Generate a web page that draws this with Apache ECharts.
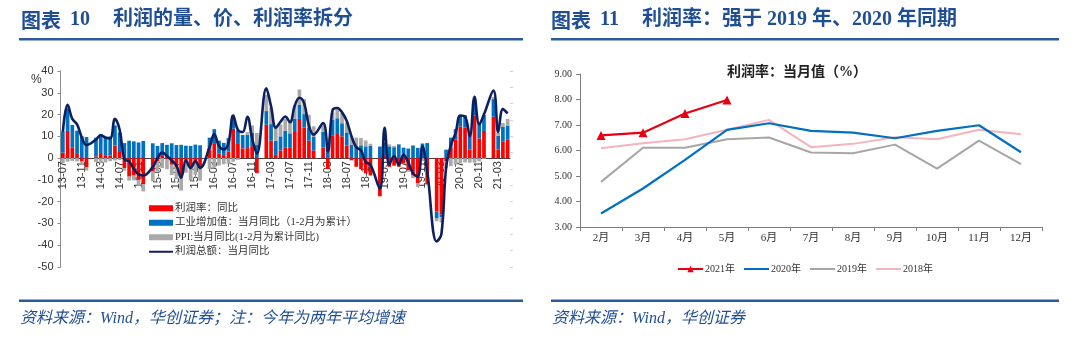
<!DOCTYPE html>
<html>
<head>
<meta charset="utf-8">
<script src="https://cdn.jsdelivr.net/npm/echarts@6/dist/echarts.min.js"></script>
<style>
  html, body { margin: 0; padding: 0; background: #ffffff; }
  #chart { width: 1080px; height: 348px; }
</style>
</head>
<body>
<div id="chart"></div>
<script>
// ---- Panel 10: monthly decomposition, 2013-07 .. 2021-05 ----
const months = [];
for (let y = 2013, m = 7; y < 2021 || (y === 2021 && m <= 5);) {
  months.push(String(y).slice(2) + '-' + String(m).padStart(2, '0'));
  m++;
  if (m > 12) { m = 1; y++; }
}

// 利润率：同比 (January merged into February, so January is empty)
const profitMargin = [
  2.5, 12.5, 5, 2.3, -1.5, -4.3,
  null, 0.8, 2.3, 1, 1.2, 5.8, 2.8, -4.6, -8.5, -8, -10, -12,
  null, -6, -1.5, 1, -0.5, -3, -4.1, -9, -0.8, -4.3, -1.8, -4.5,
  null, 4, 6.5, 2, 1, 3, 13.5, 6.5, 4.5, 4.6, 5.5, -6.9,
  null, 15.3, 8, 1.5, 3.5, 5, 5, 12, 18, 14, 8, 3.5,
  null, 4.9, -5, 10.5, 11.5, 10, 5.8, -1, -4, -5, -7, -8,
  null, -17.5, 1, -4, -3.5, -4, -2.5, -5.5, -8, -11.5, 0.5, -12,
  null, -24.5, -26, -1.5, 5, 8.5, 14.5, 14, 4, 19.5, 9, 12.5,
  null, 19, 4, 7.5, 8.4
];

// 工业增加值：当月同比
const valueAdded = [
  9.7, 10.4, 10.2, 10.3, 10.0, 9.7,
  null, 8.6, 8.8, 8.7, 8.8, 9.2, 9.0, 6.9, 8.0, 7.7, 7.2, 7.9,
  null, 6.8, 5.6, 5.9, 6.1, 6.8, 6.0, 6.1, 5.7, 5.6, 6.2, 5.9,
  null, 5.4, 6.8, 6.0, 6.0, 6.2, 6.0, 6.3, 6.1, 6.1, 6.2, 6.0,
  null, 6.3, 7.6, 6.5, 6.5, 7.6, 6.4, 6.0, 6.6, 6.2, 6.1, 6.2,
  null, 7.2, 6.0, 7.0, 6.8, 6.0, 6.0, 6.1, 5.8, 5.9, 5.4, 5.7,
  null, 5.3, 6.0, 5.4, 5.0, 6.3, 4.8, 4.4, 5.8, 4.7, 6.2, 6.9,
  null, -3.0, -1.1, 3.9, 4.4, 4.8, 4.8, 5.6, 6.9, 6.9, 7.0, 7.3,
  null, 8.1, 6.2, 6.8, 6.6
];

// PPI：当月同比
const ppi = [
  -2.3, -1.6, -1.3, -1.5, -1.4, -1.4,
  null, -1.8, -2.3, -2.0, -1.4, -1.1, -0.9, -1.2, -1.8, -2.2, -2.7, -3.3,
  null, -4.6, -4.6, -4.6, -4.6, -4.8, -5.4, -5.9, -5.9, -5.9, -5.9, -5.9,
  null, -5.1, -4.3, -3.4, -2.8, -2.6, -1.7, -0.8, 0.1, 1.2, 3.3, 5.5,
  null, 7.4, 7.6, 6.4, 5.5, 5.5, 5.5, 6.3, 6.9, 6.9, 5.8, 4.9,
  null, 4.0, 3.1, 3.4, 4.1, 4.7, 4.6, 4.1, 3.6, 3.3, 2.7, 0.9,
  null, 0.1, 0.4, 0.9, 0.6, 0.0, -0.3, -0.8, -1.2, -1.6, -1.4, -0.5,
  null, -1.5, -2.5, -3.1, -3.7, -3.0, -2.4, -2.0, -2.1, -2.1, -1.5, -0.4,
  null, 1.0, 1.4, 1.8, 3.0
];

// 利润总额：当月同比
const profitTotal = [
  12, 24.5, 18, 15.5, 9.5, 6,
  null, 8.5, 10.5, 9.5, 9, 18, 13, -0.5, -1.5, -5, -7.5, -8,
  null, -4, 0, 2.5, 1, -1, -3.5, -9, -1, -4.6, -1.5, -4.5,
  null, 5, 11, 5.5, 4, 7, 19.5, 13, 12, 19, 9, 2,
  null, 32, 23.8, 14, 16.7, 19.1, 16.5, 24, 27.7, 25.1, 14.9, 10.8,
  null, 16.1, 3.1, 22, 23, 21, 17, 10, 5, 3.6, -1.8, -3,
  null, -14, 13.9, -3, 1, -3, 1.5, -2, -7, -8.5, 5.4, -6,
  null, -38.3, -34.9, -4.3, 6, 11.5, 19.6, 19.1, 10.1, 28.2, 15.5, 20.1,
  null, 31, 12, 22.5, 20.5
];

// ---- Panel 11: monthly profit rate by year ----
const rateMonths = ['2月', '3月', '4月', '5月', '6月', '7月', '8月', '9月', '10月', '11月', '12月'];
const rate2021 = [6.59, 6.70, 7.45, 7.98];
const rate2020 = [3.53, 4.51, 5.63, 6.81, 7.07, 6.77, 6.70, 6.48, 6.77, 6.99, 5.93];
const rate2019 = [4.77, 6.11, 6.11, 6.44, 6.51, 5.92, 5.89, 6.23, 5.29, 6.39, 5.47];
const rate2018 = [6.09, 6.28, 6.44, 6.81, 7.20, 6.13, 6.26, 6.52, 6.44, 6.81, 6.64];

const titleBlue = '#1f4e94';
const ruleBlue = '#2d5a9c';
const serifCJK = '"Liberation Serif", "Noto Sans CJK SC", serif';
const sansCJK = '"Noto Sans CJK SC", sans-serif';

// left plot box: value range -50..40 over 196px, zero line lifted from the bottom edge
const leftTop = 71, leftHeight = 196, leftMin = -50, leftMax = 40;
const zeroOffset = -leftHeight * (0 - leftMin) / (leftMax - leftMin);

const chart = echarts.init(document.getElementById('chart'), null, { renderer: 'canvas' });

function txt(text, x, y, font, fill, align) {
  return {
    type: 'text',
    silent: true,
    style: { text: text, x: x, y: y, font: font, fill: fill, align: align || 'left', verticalAlign: 'middle' }
  };
}

const option = {
  animation: false,
  backgroundColor: '#ffffff',
  grid: [
    { left: 60.5, top: leftTop, width: 449.5, height: leftHeight },
    { left: 580, top: 74, width: 462, height: 153 }
  ],
  xAxis: [
    {
      gridIndex: 0, type: 'category', data: months, position: 'bottom', offset: zeroOffset,
      axisLine: { onZero: false, lineStyle: { color: '#404040', width: 1 } },
      axisTick: { show: false },
      axisLabel: { interval: 3, rotate: 90, fontSize: 11, color: '#333', margin: 3, fontFamily: '"Liberation Sans", Arial, sans-serif' }
    },
    {
      gridIndex: 1, type: 'category', data: rateMonths,
      axisLine: { lineStyle: { color: '#7f7f7f' } },
      axisTick: { show: true, length: 4, lineStyle: { color: '#7f7f7f' } },
      axisLabel: { fontSize: 11, color: '#333', margin: 6, fontFamily: serifCJK }
    }
  ],
  yAxis: [
    {
      gridIndex: 0, type: 'value', min: leftMin, max: leftMax, interval: 10,
      axisLine: { show: true, lineStyle: { color: '#8c8c8c' } },
      axisTick: { show: true, length: 3, lineStyle: { color: '#8c8c8c' } },
      splitLine: { show: false },
      axisLabel: { fontSize: 11, color: '#333', margin: 7, fontFamily: '"Liberation Sans", Arial, sans-serif' }
    },
    {
      gridIndex: 0, type: 'value', position: 'right', min: leftMin, max: leftMax, interval: 7.5,
      axisLine: { show: false },
      axisTick: { show: true, length: 3, lineStyle: { color: '#d4d4d4' } },
      axisLabel: { show: false },
      splitLine: { show: false }
    },
    {
      gridIndex: 1, type: 'value', min: 3, max: 9, interval: 1,
      axisLine: { show: true, lineStyle: { color: '#7f7f7f' } },
      axisTick: { show: true, length: 4, lineStyle: { color: '#7f7f7f' } },
      splitLine: { show: false },
      axisLabel: { formatter: v => v.toFixed(2), fontSize: 10, color: '#333', margin: 8, fontFamily: serifCJK }
    }
  ],
  legend: [
    {
      orient: 'vertical', left: 143, top: 198,
      itemWidth: 24, itemHeight: 6, itemGap: 4,
      textStyle: { fontSize: 10.5, color: '#333', fontFamily: serifCJK, padding: [0, 0, 0, -3] },
      data: [
        { name: '利润率：同比', icon: 'rect' },
        { name: '工业增加值：当月同比（1-2月为累计）', icon: 'rect' },
        { name: 'PPI:当月同比(1-2月为累计同比)', icon: 'rect' },
        { name: '利润总额：当月同比', itemStyle: { opacity: 0 } }
      ]
    },
    {
      orient: 'horizontal', left: 672, top: 259,
      itemWidth: 25, itemHeight: 8, itemGap: 8,
      textStyle: { fontSize: 10, color: '#333', fontFamily: serifCJK, padding: [0, 0, 0, -3] },
      data: [
        { name: '2021年' },
        { name: '2020年', itemStyle: { opacity: 0 } },
        { name: '2019年', itemStyle: { opacity: 0 } },
        { name: '2018年', itemStyle: { opacity: 0 } }
      ]
    }
  ],
  series: [
    {
      name: '利润率：同比', type: 'bar', stack: 'split', xAxisIndex: 0, yAxisIndex: 0,
      data: profitMargin, itemStyle: { color: '#ff0000' }, barCategoryGap: '22%'
    },
    {
      name: '工业增加值：当月同比（1-2月为累计）', type: 'bar', stack: 'split', xAxisIndex: 0, yAxisIndex: 0,
      data: valueAdded, itemStyle: { color: '#0070c0' }, barCategoryGap: '22%'
    },
    {
      name: 'PPI:当月同比(1-2月为累计同比)', type: 'bar', stack: 'split', xAxisIndex: 0, yAxisIndex: 0,
      data: ppi, itemStyle: { color: '#a9a9a9' }, barCategoryGap: '22%'
    },
    {
      name: '利润总额：当月同比', type: 'line', xAxisIndex: 0, yAxisIndex: 0,
      data: profitTotal, connectNulls: true, smooth: 0.4, symbol: 'none', z: 5,
      lineStyle: { color: '#0c1f5e', width: 2.6 }, itemStyle: { color: '#0c1f5e' }
    },
    {
      name: '2018年', type: 'line', xAxisIndex: 1, yAxisIndex: 2, data: rate2018,
      symbol: 'none', lineStyle: { color: '#f5b3bd', width: 2 }, itemStyle: { color: '#f5b3bd' }
    },
    {
      name: '2019年', type: 'line', xAxisIndex: 1, yAxisIndex: 2, data: rate2019,
      symbol: 'none', lineStyle: { color: '#a6a6a6', width: 2 }, itemStyle: { color: '#a6a6a6' }
    },
    {
      name: '2020年', type: 'line', xAxisIndex: 1, yAxisIndex: 2, data: rate2020,
      symbol: 'none', lineStyle: { color: '#0070c0', width: 2.2 }, itemStyle: { color: '#0070c0' }
    },
    {
      name: '2021年', type: 'line', xAxisIndex: 1, yAxisIndex: 2, data: rate2021,
      symbol: 'triangle', symbolSize: 9, showSymbol: true,
      lineStyle: { color: '#e60012', width: 2.2 }, itemStyle: { color: '#e60012' }
    }
  ],
  graphic: [
    // panel titles
    txt('图表', 21, 20, 'bold 20px ' + sansCJK, titleBlue),
    txt('10', 70, 20, 'bold 20px "Liberation Serif", serif', titleBlue),
    txt('利润的量、价、利润率拆分', 113, 20, 'bold 20px ' + serifCJK, titleBlue),
    txt('图表', 551, 20, 'bold 20px ' + sansCJK, titleBlue),
    txt('11', 600, 20, 'bold 20px "Liberation Serif", serif', titleBlue),
    txt('利润率：强于 2019 年、2020 年同期', 642, 20, 'bold 20px ' + serifCJK, titleBlue),
    { type: 'rect', silent: true, shape: { x: 19, y: 38, width: 504, height: 2.5 }, style: { fill: ruleBlue } },
    { type: 'rect', silent: true, shape: { x: 551, y: 38, width: 508, height: 2.5 }, style: { fill: ruleBlue } },
    // unit and inner title
    txt('%', 31, 80, '12px "Liberation Sans", Arial, sans-serif', '#333'),
    txt('利润率：当月值（%）', 797, 72, 'bold 14px ' + serifCJK, '#222', 'center'),
    // sources
    { type: 'rect', silent: true, shape: { x: 19, y: 299.5, width: 504, height: 2.5 }, style: { fill: ruleBlue } },
    { type: 'rect', silent: true, shape: { x: 551, y: 299.5, width: 508, height: 2.5 }, style: { fill: ruleBlue } },
    txt('资料来源：Wind，华创证券；注：今年为两年平均增速', 20, 319, 'italic 16px ' + serifCJK, titleBlue),
    txt('资料来源：Wind，华创证券', 552, 319, 'italic 16px ' + serifCJK, titleBlue)
  ]
};

chart.setOption(option);
</script>
</body>
</html>
